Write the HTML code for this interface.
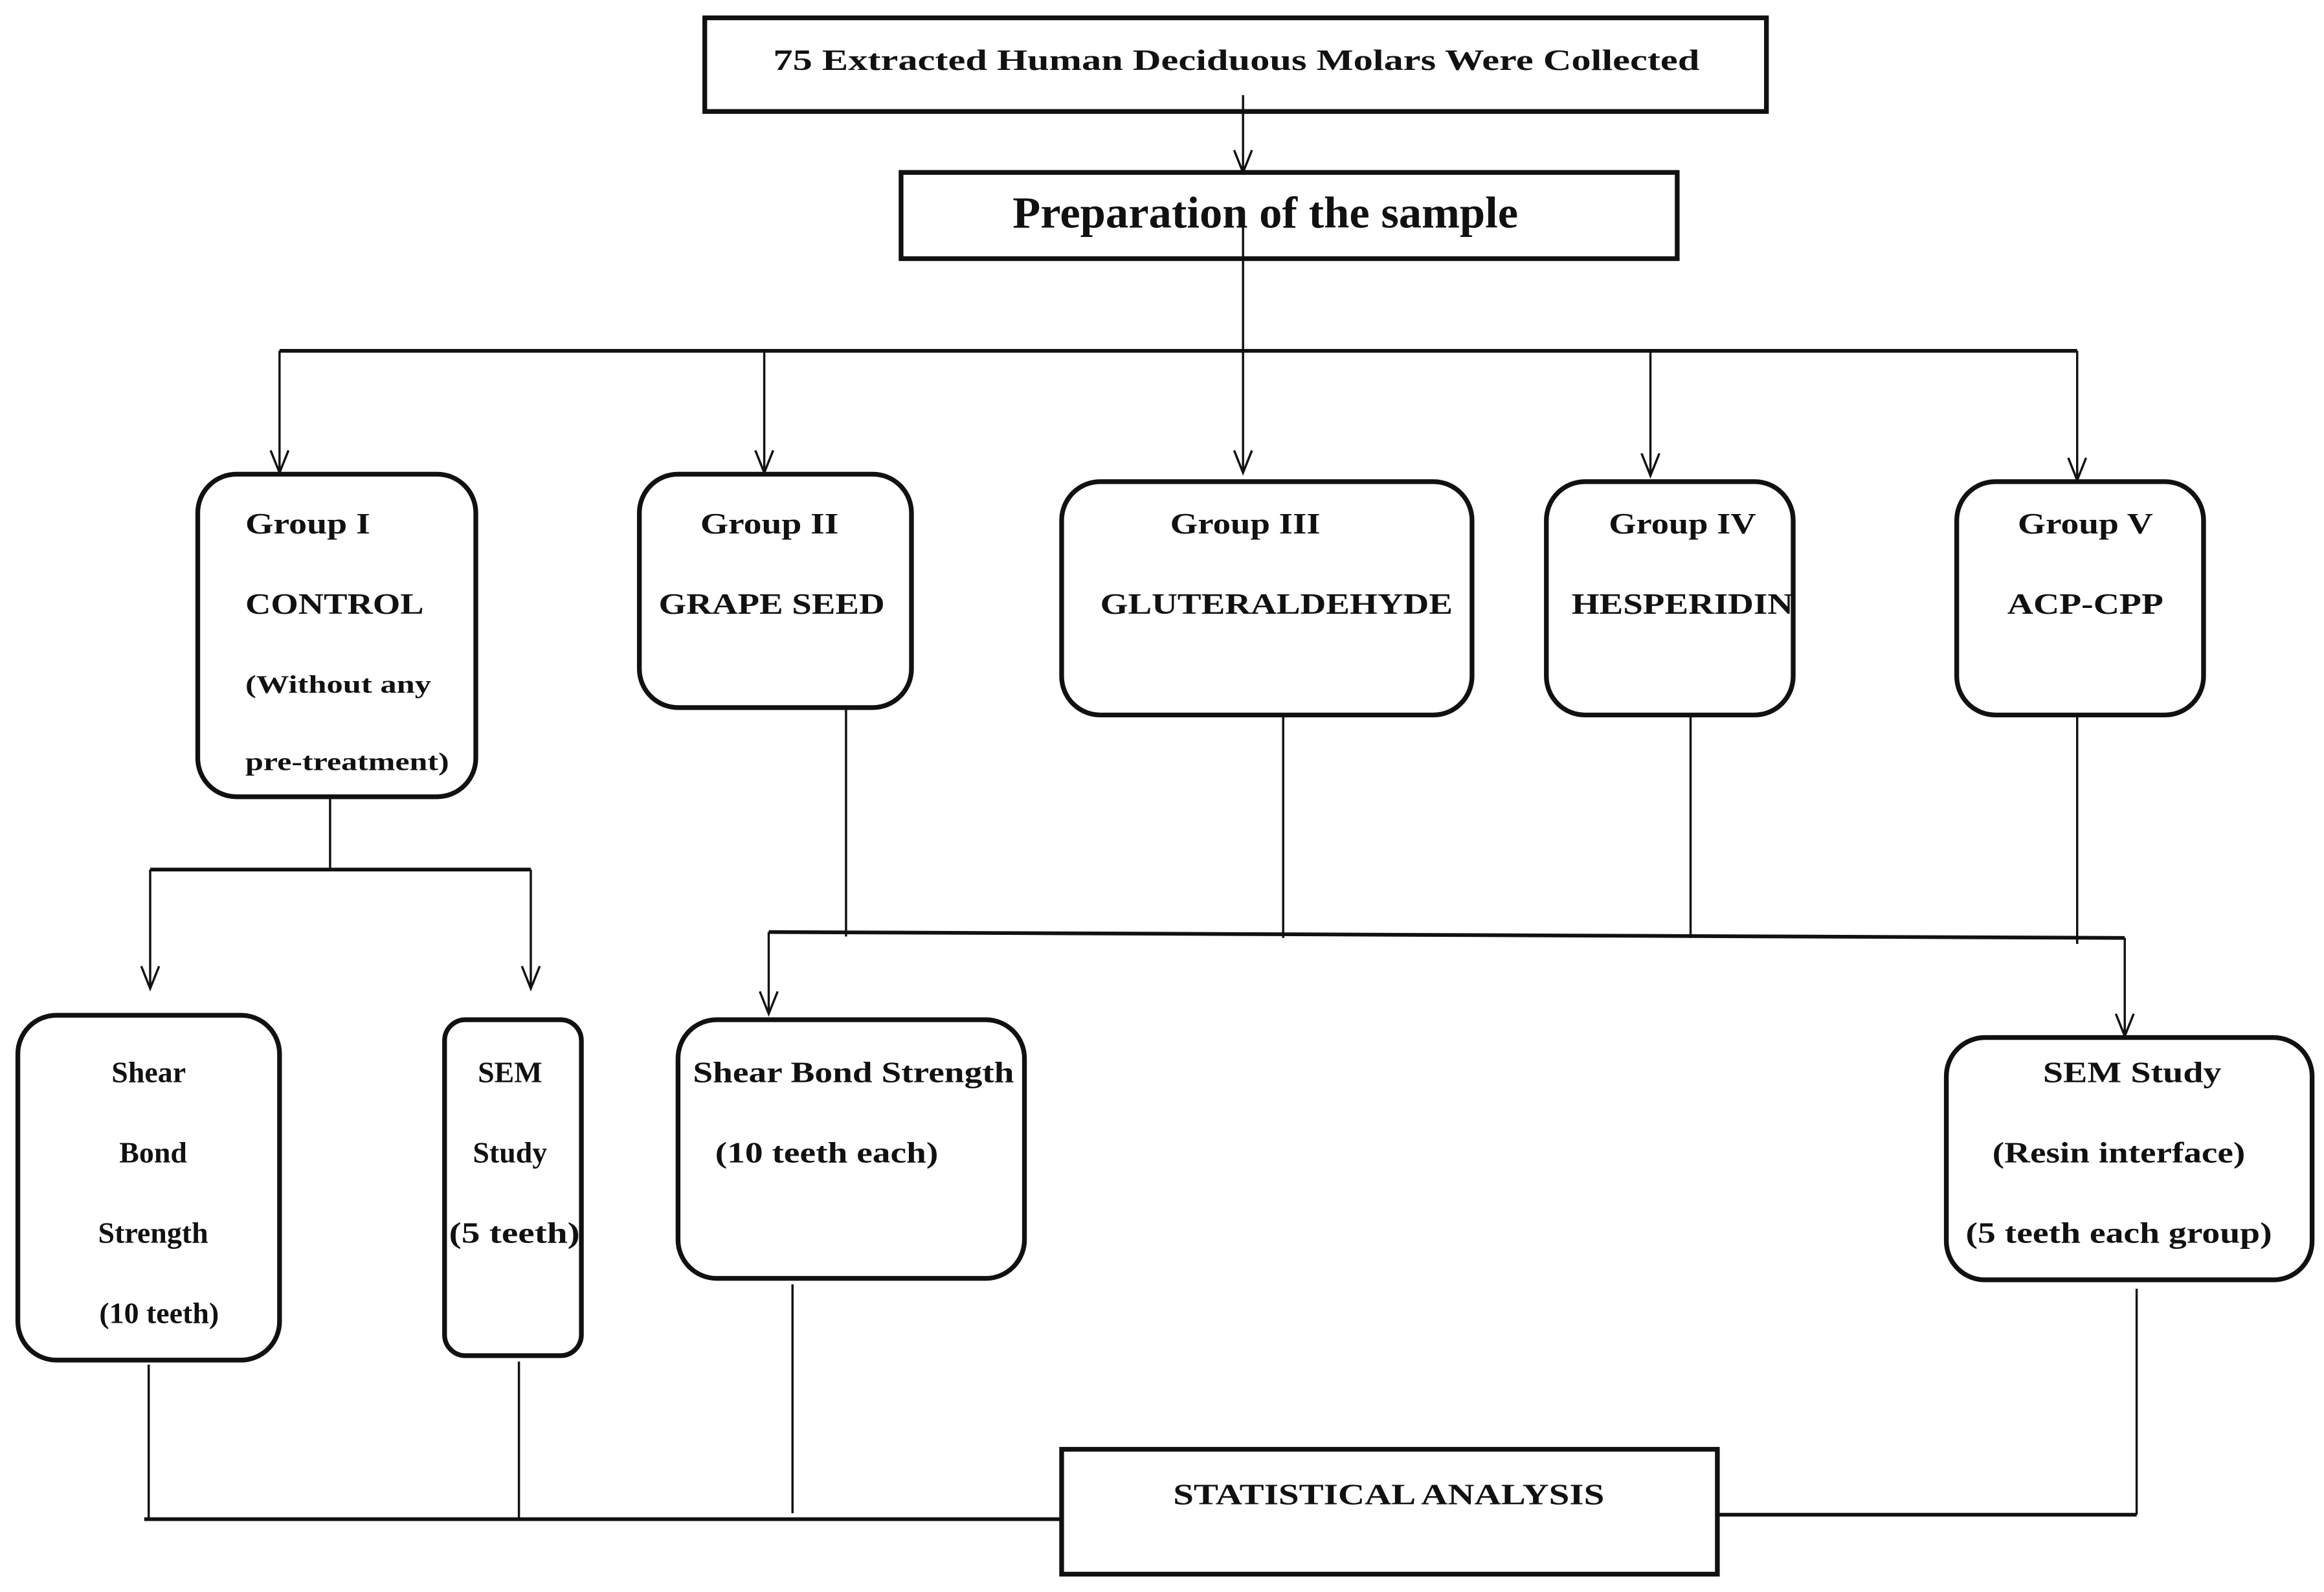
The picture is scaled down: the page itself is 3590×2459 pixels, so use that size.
<!DOCTYPE html>
<html><head><meta charset="utf-8"><style>html,body{margin:0;padding:0;background:#fff}svg{display:block}</style></head>
<body>
<svg width="3590" height="2459" viewBox="0 0 1563 1071" preserveAspectRatio="none" xmlns="http://www.w3.org/2000/svg" font-family="'Liberation Serif', serif" font-weight="bold" fill="#111">
<g fill="none" stroke="#111" stroke-width="3.2">
<rect x="474" y="12" width="714" height="63"/>
<rect x="606" y="116" width="522" height="58"/>
<rect x="133" y="319" width="187" height="217" rx="26"/>
<rect x="430" y="319" width="183" height="157" rx="26"/>
<rect x="714" y="324" width="276" height="157" rx="26"/>
<rect x="1040" y="324" width="166" height="157" rx="26"/>
<rect x="1316" y="324" width="166" height="157" rx="26"/>
<rect x="12" y="683" width="176" height="232" rx="26"/>
<rect x="299" y="686" width="92" height="226" rx="14"/>
<rect x="456" y="686" width="233" height="174" rx="26"/>
<rect x="1309" y="698" width="246" height="163" rx="26"/>
<rect x="714" y="975" width="441" height="84"/>
</g>
<g fill="none" stroke="#111" stroke-width="1.5">
<line x1="836" y1="64" x2="836" y2="116"/>
<line x1="836" y1="140" x2="836" y2="318"/>
<line x1="188" y1="236" x2="1397" y2="236" stroke-width="2.5"/>
<line x1="188" y1="236" x2="188" y2="318"/>
<line x1="514" y1="236" x2="514" y2="318"/>
<line x1="1110" y1="236" x2="1110" y2="320"/>
<line x1="1397" y1="236" x2="1397" y2="323"/>
<line x1="222" y1="536" x2="222" y2="585"/>
<line x1="101" y1="585" x2="357" y2="585" stroke-width="2.5"/>
<line x1="101" y1="585" x2="101" y2="665"/>
<line x1="357" y1="585" x2="357" y2="665"/>
<line x1="569" y1="476" x2="569" y2="630"/>
<line x1="863" y1="481" x2="863" y2="631"/>
<line x1="1137" y1="481" x2="1137" y2="631"/>
<line x1="1397" y1="481" x2="1397" y2="635"/>
<line x1="517" y1="627" x2="1429" y2="631" stroke-width="2.5"/>
<line x1="517" y1="627" x2="517" y2="682"/>
<line x1="1429" y1="631" x2="1429" y2="697"/>
<line x1="100" y1="918" x2="100" y2="1022"/>
<line x1="349" y1="916" x2="349" y2="1022"/>
<line x1="533" y1="864" x2="533" y2="1018"/>
<line x1="97" y1="1022" x2="714" y2="1022" stroke-width="2.5"/>
<line x1="1155" y1="1019" x2="1437" y2="1019" stroke-width="2.5"/>
<line x1="1437" y1="867" x2="1437" y2="1019"/>
<path d="M830,101 L836,116 L842,101 M182,303 L188,318 L194,303 M508,303 L514,318 L520,303 M830,303 L836,318 L842,303 M1104,305 L1110,320 L1116,305 M1391,308 L1397,323 L1403,308 M95,650 L101,665 L107,650 M351,650 L357,665 L363,650 M511,667 L517,682 L523,667 M1423,682 L1429,697 L1435,682"/>
</g>
<g font-size="20">
<text x="520" y="47" textLength="623" lengthAdjust="spacingAndGlyphs">75 Extracted Human Deciduous Molars Were Collected</text>
<text x="681" y="153" font-size="30" textLength="340" lengthAdjust="spacingAndGlyphs">Preparation of the sample</text>
<text x="165" y="359" textLength="84" lengthAdjust="spacingAndGlyphs">Group I</text>
<text x="165" y="413" textLength="120" lengthAdjust="spacingAndGlyphs">CONTROL</text>
<text x="165" y="466" font-size="17" textLength="125" lengthAdjust="spacingAndGlyphs">(Without any</text>
<text x="165" y="518" font-size="17" textLength="137" lengthAdjust="spacingAndGlyphs">pre-treatment)</text>
<text x="471" y="359" textLength="93" lengthAdjust="spacingAndGlyphs">Group II</text>
<text x="443" y="413" textLength="152" lengthAdjust="spacingAndGlyphs">GRAPE SEED</text>
<text x="787" y="359" textLength="101" lengthAdjust="spacingAndGlyphs">Group III</text>
<text x="740" y="413" textLength="237" lengthAdjust="spacingAndGlyphs">GLUTERALDEHYDE</text>
<text x="1082" y="359" textLength="99" lengthAdjust="spacingAndGlyphs">Group IV</text>
<text x="1057" y="413" textLength="149" lengthAdjust="spacingAndGlyphs">HESPERIDIN</text>
<text x="1357" y="359" textLength="91" lengthAdjust="spacingAndGlyphs">Group V</text>
<text x="1350" y="413" textLength="105" lengthAdjust="spacingAndGlyphs">ACP-CPP</text>
<text x="100" y="728" text-anchor="middle">Shear</text>
<text x="103" y="782" text-anchor="middle">Bond</text>
<text x="103" y="836" text-anchor="middle">Strength</text>
<text x="107" y="890" text-anchor="middle">(10 teeth)</text>
<text x="343" y="728" text-anchor="middle">SEM</text>
<text x="343" y="782" text-anchor="middle">Study</text>
<text x="346" y="836" text-anchor="middle" textLength="88" lengthAdjust="spacingAndGlyphs">(5 teeth)</text>
<text x="466" y="728" textLength="216" lengthAdjust="spacingAndGlyphs">Shear Bond Strength</text>
<text x="481" y="782" textLength="150" lengthAdjust="spacingAndGlyphs">(10 teeth each)</text>
<text x="1374" y="728" textLength="120" lengthAdjust="spacingAndGlyphs">SEM Study</text>
<text x="1340" y="782" textLength="170" lengthAdjust="spacingAndGlyphs">(Resin interface)</text>
<text x="1322" y="836" textLength="206" lengthAdjust="spacingAndGlyphs">(5 teeth each group)</text>
<text x="789" y="1012" textLength="290" lengthAdjust="spacingAndGlyphs">STATISTICAL ANALYSIS</text>
</g>
</svg>
</body></html>
